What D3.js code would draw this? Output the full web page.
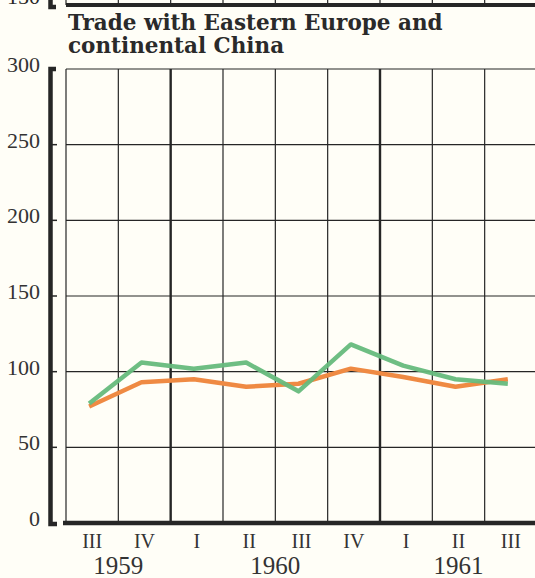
<!DOCTYPE html>
<html>
<head>
<meta charset="utf-8">
<script src="https://cdn.jsdelivr.net/npm/d3@7"></script>
<style>
  html, body { margin: 0; padding: 0; background: #fffef7; }
  svg { display: block; }
</style>
</head>
<body>
<div id="chart"></div>
<script>
// quarters shown on the x axis, and the year each belongs to
var quarters = ["III", "IV", "I", "II", "III", "IV", "I", "II", "III"];
var quarterYears = [1959, 1959, 1960, 1960, 1960, 1960, 1961, 1961, 1961];

// the two series (index values)
var greenSeries = [79, 106, 102, 106, 87, 118, 104, 95, 92];
var orangeSeries = [77, 93, 95, 90, 92, 102, 96.5, 90, 95];

var yTicks = [0, 50, 100, 150, 200, 250, 300];
var titleLines = ["Trade with Eastern Europe and", "continental China"];

var W = 535, H = 578;
var ink = "#262626";

var svg = d3.select("#chart").append("svg")
    .attr("width", W)
    .attr("height", H);

var x = d3.scaleBand()
    .domain(d3.range(quarters.length))
    .range([66, 537])
    .padding(0);
var y = d3.scaleLinear().domain([0, 300]).range([523, 69]);

var edges = d3.range(quarters.length + 1).map(function(i) {
  return i < quarters.length ? x(i) : x(i - 1) + x.bandwidth();
});
function isYearEdge(i) {
  return i > 0 && i < quarters.length && quarterYears[i] != quarterYears[i - 1];
}

/* remnant of the chart above: cut off at the top */
svg.append("text")
    .attr("x", 40).attr("y", 4)
    .attr("text-anchor", "end")
    .style("font-family", "'Liberation Serif', serif")
    .style("font-size", "22px")
    .style("fill", ink)
    .text("150");
svg.selectAll("line.topgrid")
    .data(edges)
  .enter().append("line")
    .attr("x1", function(d) { return d; })
    .attr("x2", function(d) { return d; })
    .attr("y1", 0).attr("y2", 5)
    .style("stroke", ink).style("stroke-width", 1.2);
svg.append("line")
    .attr("x1", 66).attr("x2", W).attr("y1", 5).attr("y2", 5)
    .style("stroke", ink).style("stroke-width", 4);
svg.append("path")
    .attr("d", "M50.5,0 V7 H56")
    .style("fill", "none").style("stroke", ink).style("stroke-width", 4.5);

/* title */
svg.append("g").selectAll("text")
    .data(titleLines)
  .enter().append("text")
    .attr("x", 68)
    .attr("y", function(d, i) { return 30 + i * 23; })
    .style("font-family", "'DejaVu Serif', serif")
    .style("font-weight", "bold")
    .style("font-size", "21.5px")
    .style("fill", "#2a2a2a")
    .text(function(d) { return d; });

/* horizontal grid */
svg.append("g").selectAll("line")
    .data(yTicks.filter(function(d) { return d > 0; }))
  .enter().append("line")
    .attr("x1", 66).attr("x2", W)
    .attr("y1", function(d) { return y(d); })
    .attr("y2", function(d) { return y(d); })
    .style("stroke", ink).style("stroke-width", 1.2);

/* vertical grid, heavier at year boundaries */
svg.append("g").selectAll("line")
    .data(edges)
  .enter().append("line")
    .attr("x1", function(d) { return d; })
    .attr("x2", function(d) { return d; })
    .attr("y1", y(300)).attr("y2", y(0))
    .style("stroke", ink)
    .style("stroke-width", function(d, i) { return isYearEdge(i) ? 2.4 : 1.2; });

/* left axis bar with ticks */
svg.append("path")
    .attr("d", "M56," + y(300) + " H50.5 V" + (y(0) + 1) + " H57")
    .style("fill", "none").style("stroke", ink).style("stroke-width", 4.5);
svg.append("g").selectAll("line")
    .data(yTicks.filter(function(d) { return d > 0 && d < 300; }))
  .enter().append("line")
    .attr("x1", 50).attr("x2", 57)
    .attr("y1", function(d) { return y(d); })
    .attr("y2", function(d) { return y(d); })
    .style("stroke", ink).style("stroke-width", 1.5);

svg.append("g").selectAll("text")
    .data(yTicks)
  .enter().append("text")
    .attr("x", 40)
    .attr("y", function(d) { return y(d) + 3; })
    .attr("text-anchor", "end")
    .style("font-family", "'Liberation Serif', serif")
    .style("font-size", "22px")
    .style("fill", "#333")
    .text(function(d) { return d; });

/* bottom axis */
svg.append("line")
    .attr("x1", 63).attr("x2", W)
    .attr("y1", y(0)).attr("y2", y(0))
    .style("stroke", ink).style("stroke-width", 4.5);

svg.append("g").selectAll("text")
    .data(quarters)
  .enter().append("text")
    .attr("x", function(d, i) { return x(i) + x.bandwidth() / 2; })
    .attr("y", 548)
    .attr("text-anchor", "middle")
    .style("font-family", "'Liberation Serif', serif")
    .style("font-size", "20px")
    .style("fill", "#333")
    .text(function(d) { return d; });

// a year label sits under the middle of its visible quarters
var years = Array.from(new Set(quarterYears));
svg.append("g").selectAll("text")
    .data(years)
  .enter().append("text")
    .attr("x", function(yr) {
      var idx = d3.range(quarters.length).filter(function(i) { return quarterYears[i] == yr; });
      return d3.mean(idx, function(i) { return x(i) + x.bandwidth() / 2; });
    })
    .attr("y", 574)
    .attr("text-anchor", "middle")
    .style("font-family", "'Liberation Serif', serif")
    .style("font-size", "25px")
    .style("fill", "#333")
    .text(function(d) { return d; });

/* series lines */
var line = d3.line()
    .x(function(d, i) { return x(i) + x.bandwidth() / 2 - 3; })
    .y(function(d) { return y(d); });

svg.append("path")
    .datum(orangeSeries)
    .attr("d", line)
    .style("fill", "none")
    .style("stroke", "#ef8a43")
    .style("stroke-width", 4.5)
    .style("stroke-linejoin", "round");

svg.append("path")
    .datum(greenSeries)
    .attr("d", line)
    .style("fill", "none")
    .style("stroke", "#66bb7c")
    .style("stroke-opacity", 0.95)
    .style("stroke-width", 4.5)
    .style("stroke-linejoin", "round");
</script>
</body>
</html>
